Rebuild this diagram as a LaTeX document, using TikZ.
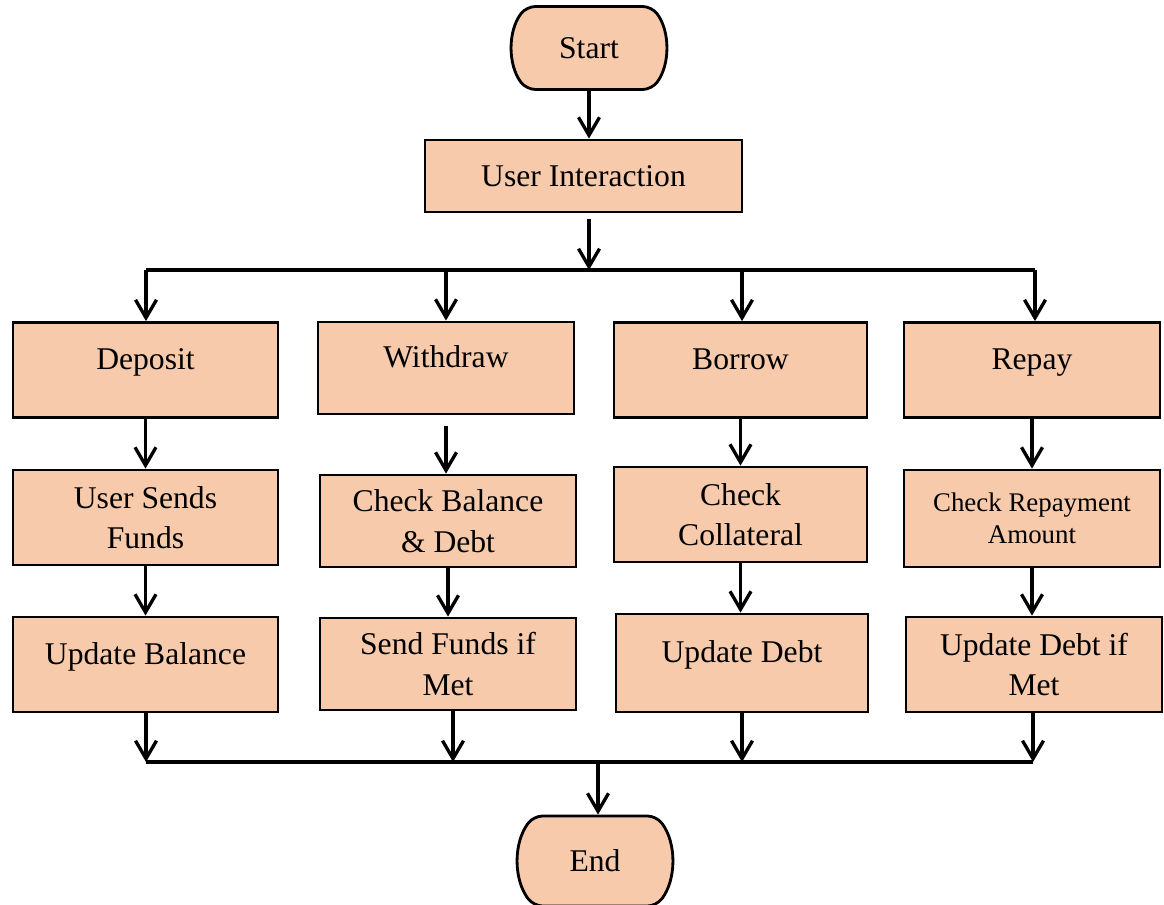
\documentclass[tikz,border=0pt]{standalone}
\usepackage{fontspec}
\setmainfont{Liberation Serif}
\usetikzlibrary{arrows.meta,shapes.misc}
\definecolor{peach}{HTML}{F7CAAC}

\begin{document}
\begin{tikzpicture}[x=0.02cm,y=-0.02cm,
    box/.style={draw, line width=1.6pt, fill=peach, minimum width=5.12cm,
      minimum height=1.9cm, align=center, inner sep=2pt,
      font=\fontsize{18}{23}\selectfont},
    small/.style={font=\fontsize{15.3}{18.2}\selectfont},
    term/.style={draw, line width=1.6pt, fill=peach, rounded rectangle,
      rounded rectangle arc length=75, minimum width=3.3cm,
      minimum height=1.66cm, rounded corners=5pt,
      font=\fontsize{18}{23}\selectfont},
    up/.style={text height=0.45cm, text depth=0.45cm},
    arr/.style={line width=1.9pt, -{Straight Barb[length=0.36cm,width=0.42cm]}},
    bus/.style={line width=1.9pt}]
      \useasboundingbox (0,0) rectangle (1164,905);

      % start and user interaction
      \node (start) at (589,48) [term] {Start};
      \node (inter) at (583.5,176) [box, minimum width=6.34cm, minimum height=1.44cm] {User Interaction};

      % deposit
      \node (dep) at (145.5,370) [box, up, minimum width=5.3cm] {Deposit};
      \node (dep1) at (145.5,517.5) [box, minimum width=5.3cm] {User Sends\\Funds};
      \node (dep2) at (145.5,664.5) [box, up, minimum width=5.3cm] {Update Balance};

      % withdraw
      \node (wd) at (446,368) [box, up, minimum height=1.84cm] {Withdraw};
      \node (wd1) at (448,521) [box, minimum height=1.84cm] {Check Balance\\\& Debt};
      \node (wd2) at (448,664) [box, minimum height=1.84cm] {Send Funds if\\Met};

      % borrow
      \node (bor) at (740.5,370) [box, up, minimum width=5.06cm] {Borrow};
      \node (bor1) at (740.5,514.5) [box, minimum width=5.06cm] {Check\\Collateral};
      \node (bor2) at (742,663) [box, up, minimum width=5.04cm, minimum height=1.96cm] {Update Debt};

      % repay
      \node (rep) at (1032,370) [box, up] {Repay};
      \node (rep1) at (1032,518.5) [box, small, minimum height=1.94cm] {Check Repayment\\Amount};
      \node (rep2) at (1034,664.5) [box] {Update Debt if\\Met};

      \node (end) at (595,861) [term, minimum height=1.8cm] {End};

      % top bus
      \coordinate (fork) at (589,270);
      \coordinate (t1) at (146,270);
      \coordinate (t2) at (446,270);
      \coordinate (t3) at (742,270);
      \coordinate (t4) at (1035,270);
      \draw[arr] (start.south) -- (start.south |- inter.north);
      \draw[arr, shorten <=0.12cm] (start.south |- inter.south) -- (fork);
      \draw[bus] (t1) -- (t4);
      \draw[arr] (t1) -- (t1 |- dep.north);
      \draw[arr] (t2) -- (t2 |- wd.north);
      \draw[arr] (t3) -- (t3 |- bor.north);
      \draw[arr] (t4) -- (t4 |- rep.north);

      % columns
      \draw[arr] (dep.south) -- (dep.south |- dep1.north);
      \draw[arr] (dep1.south) -- (dep1.south |- dep2.north);
      \draw[arr, shorten <=0.22cm] (wd.south) -- (wd.south |- wd1.north);
      \draw[arr] (wd1.south) -- (wd1.south |- wd2.north);
      \draw[arr] (bor.south) -- (bor.south |- bor1.north);
      \draw[arr] (bor1.south) -- (bor1.south |- bor2.north);
      \draw[arr] (rep.south) -- (rep.south |- rep1.north);
      \draw[arr] (rep1.south) -- (rep1.south |- rep2.north);

      % bottom bus
      \coordinate (b1) at (146,762);
      \coordinate (b2) at (453,762);
      \coordinate (b3) at (742,762);
      \coordinate (b4) at (1033,762);
      \coordinate (join) at (598,762);
      \draw[arr] (b1 |- dep2.south) -- (b1);
      \draw[arr] (b2 |- wd2.south) -- (b2);
      \draw[arr] (b3 |- bor2.south) -- (b3);
      \draw[arr] (b4 |- rep2.south) -- (b4);
      \draw[bus] (b1) -- (b4);
      \draw[arr] (join) -- (join |- end.north);
    \end{tikzpicture}
\end{document}
